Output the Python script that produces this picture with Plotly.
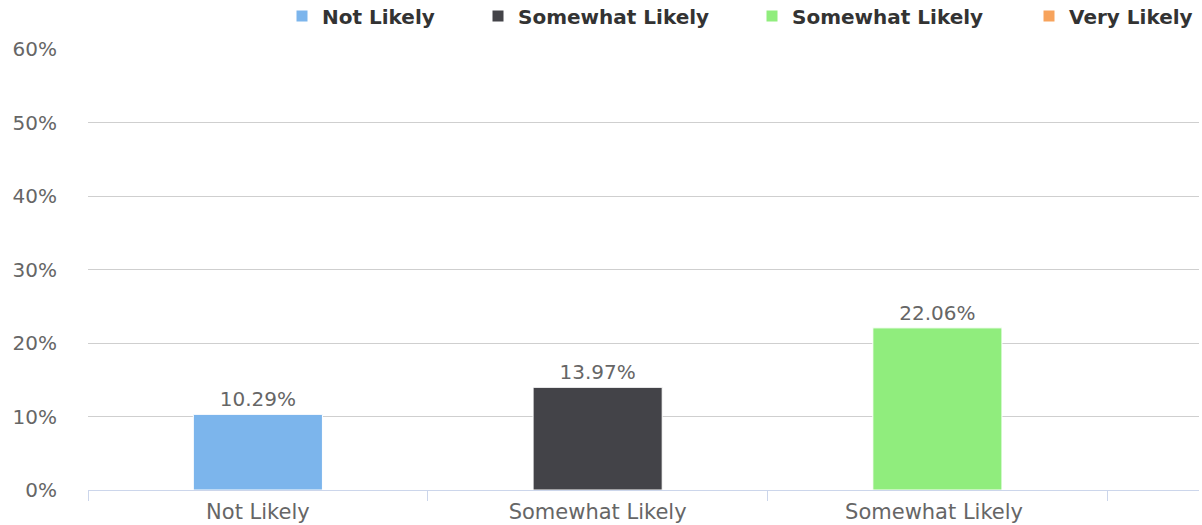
import plotly.graph_objects as go

# Data
categories = ["Not Likely", "Somewhat Likely", "Somewhat Likely ", "Very Likely"]
series_names = ["Not Likely", "Somewhat Likely", "Somewhat Likely", "Very Likely"]
values = [10.29, 13.97, 22.06, 53.68]
colors = ["#7cb5ec", "#434348", "#90ed7d", "#f7a35c"]
y_ticks = [0, 10, 20, 30, 40, 50, 60]
# text start position (px) of each legend entry, as in the reference
legend_text_x = [322, 518, 792, 1069]

W, H = 1202, 525
legend_ids = ["legend", "legend2", "legend3", "legend4"]

fig = go.Figure()
for i, (cat, name, val, col) in enumerate(zip(categories, series_names, values, colors)):
    visible_label = i < 3
    fig.add_trace(go.Bar(
        x=[cat], y=[val], name=name,
        marker=dict(color=col, line=dict(color="#ffffff", width=1)),
        width=0.38,
        texttemplate="%{y:.2f}%" if visible_label else "",
        textposition="outside",
        textfont=dict(family="DejaVu Sans", size=20, color="#666666"),
        cliponaxis=True,
        legend=legend_ids[i],
        showlegend=True,
    ))

legend_common = dict(
    orientation="h",
    xref="container", yref="container",
    xanchor="left", yanchor="middle",
    y=1 - 16 / H,
    font=dict(family="DejaVu Sans", size=20, color="#333333", weight="bold"),
    bgcolor="rgba(0,0,0,0)",
)
legend_layout = {}
for lid, tx in zip(legend_ids, legend_text_x):
    legend_layout[lid] = dict(legend_common, x=(tx - 40) / W)

fig.update_layout(
    width=W, height=H,
    margin=dict(l=88, r=3, t=49, b=35, autoexpand=False),
    barmode="overlay",
    plot_bgcolor="#ffffff", paper_bgcolor="#ffffff",
    font=dict(family="DejaVu Sans", size=20, color="#666666"),
    showlegend=True,
    **legend_layout,
)

fig.update_xaxes(
    type="category",
    categoryorder="array", categoryarray=categories,
    range=[-0.5, 2.77],
    tickson="boundaries",
    ticks="outside", ticklen=10, tickcolor="#ccd6eb", tickwidth=1,
    showline=True, linecolor="#ccd6eb", linewidth=1,
    showgrid=False,
    ticklabelstandoff=3,
    tickfont=dict(family="DejaVu Sans", size=21, color="#666666"),
)
fig.update_yaxes(
    range=[0, 60],
    tickvals=y_ticks,
    ticktext=[f"{t}%" for t in y_ticks],
    showgrid=True, gridcolor="#cfcfcf", gridwidth=1,
    zeroline=False,
    showline=False,
    ticks="",
    ticklabelstandoff=30,
    tickfont=dict(family="DejaVu Sans", size=20, color="#666666"),
)

fig.write_html(
    "out.html",
    config={"displayModeBar": False},
    post_script="document.body.style.margin='0';document.body.style.overflow='hidden';",
)
